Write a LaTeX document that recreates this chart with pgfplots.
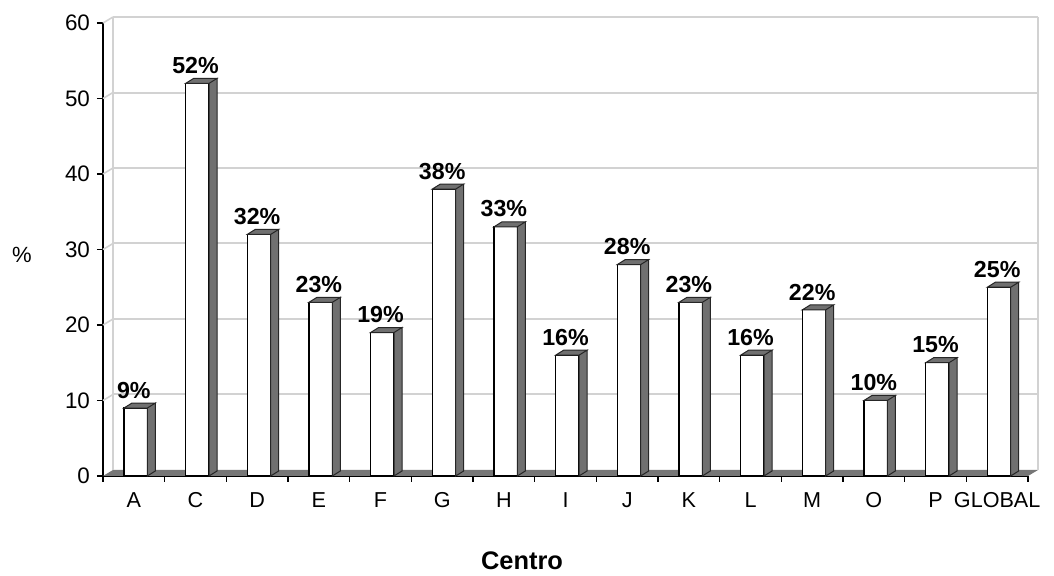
\documentclass[border=0pt]{standalone}
\usepackage{pgfplots}
\pgfplotsset{compat=1.18}
\usepackage{pgfplotstable}
\usepackage{fontspec}
\setmainfont{Liberation Sans}
\definecolor{sidegray}{RGB}{112,112,112}
\definecolor{floorgray}{RGB}{118,118,118}
\definecolor{gridgray}{RGB}{210,210,210}
\pgfdeclareplotmark{bardepth}{%
  \pgfmathsetlengthmacro\barh{\val*3.775pt}%
  \pgfsetlinewidth{0.5pt}%
  \pgfsetstrokecolor{black!85}%
  \pgfsetfillcolor{sidegray}%
  \pgfpathmoveto{\pgfpoint{6.75pt}{-\barh}}%
  \pgfpathlineto{\pgfpoint{10.75pt}{-\barh+2.5pt}}%
  \pgfpathlineto{\pgfpoint{10.75pt}{2.5pt}}%
  \pgfpathlineto{\pgfpoint{6.75pt}{0pt}}%
  \pgfpathclose
  \pgfpathmoveto{\pgfpoint{-4.95pt}{0pt}}%
  \pgfpathlineto{\pgfpoint{-0.95pt}{2.5pt}}%
  \pgfpathlineto{\pgfpoint{10.75pt}{2.5pt}}%
  \pgfpathlineto{\pgfpoint{6.75pt}{0pt}}%
  \pgfpathclose
  \pgfusepath{fill,stroke}%
}
\pgfplotstableread{
x v lab
0 9 A
1 52 C
2 32 D
3 23 E
4 19 F
5 38 G
6 33 H
7 16 I
8 28 J
9 23 K
10 16 L
11 22 M
12 10 O
13 15 P
14 25 GLOBAL
}\datatable
\begin{document}
\begin{tikzpicture}
\path[use as bounding box] (-51.5pt,-50pt) rectangle (475.5pt,238pt);
\begin{axis}[
  scale only axis, width=462.5pt, height=226.5pt,
  xmin=-0.5, xmax=14.5, ymin=0, ymax=60,
  clip=false,
  axis x line*=bottom, axis y line*=left,
  axis line style={black, line width=0.8pt},
  ytick={0,10,...,60},
  xtick={0,...,14},
  xticklabels={A,C,D,E,F,G,H,I,J,K,L,M,O,P,GLOBAL},
  minor xtick={-0.5,0.5,...,14.5},
  tick align=outside,
  major tick length=3pt, minor tick length=3pt,
  tick style={black, line width=0.6pt},
  major x tick style={draw=none},
  /pgf/number format/assume math mode=true,
  tick label style={font=\fontsize{10.8}{12}\selectfont},
  yticklabel style={font=\fontsize{11.2}{12}\selectfont},
  xticklabel style={anchor=base, yshift=-12.9pt},
  xlabel={Centro},
  ylabel={\%},
  every axis x label/.style={at={(axis description cs:0.453,-0.1876)}, anchor=center, font=\bfseries\fontsize{12.7}{14}\selectfont},
  every axis y label/.style={at={(axis description cs:-0.0876,0.488)}, anchor=center, font=\fontsize{11}{12}\selectfont},
]
\fill[floorgray] (axis cs:-0.5,0) -- (axis cs:14.5,0) -- ([shift={(5pt,3pt)}]axis cs:14.5,0) -- ([shift={(5pt,3pt)}]axis cs:-0.5,0) -- cycle;
\pgfplotsinvokeforeach{10,20,30,40,50,60}{
  \draw[gridgray, line width=1pt] ([shift={(5pt,3pt)}]axis cs:-0.5,#1) -- ([shift={(5pt,3pt)}]axis cs:14.5,#1);
  \draw[gridgray, line width=0.8pt] (axis cs:-0.5,#1) -- ([shift={(5pt,3pt)}]axis cs:-0.5,#1);
}
\draw[gridgray, line width=1pt] ([shift={(5pt,3pt)}]axis cs:-0.5,0) -- ([shift={(5pt,3pt)}]axis cs:-0.5,60);
\draw[gridgray, line width=1pt] ([shift={(5pt,3pt)}]axis cs:14.5,0) -- ([shift={(5pt,3pt)}]axis cs:14.5,60);
\addplot[only marks, mark=bardepth, visualization depends on={rawy \as \val}] table[x=x,y=v]{\datatable};
\addplot[ybar, bar width=11.7pt, bar shift=0.9pt, fill=white, draw=black, line width=0.6pt,
  nodes near coords={\pgfmathprintnumber{\pgfplotspointmeta}\%},
  nodes near coords style={font=\bfseries\fontsize{11.6}{12}\selectfont, yshift=1.2pt, black}]
  table[x=x,y=v]{\datatable};
\end{axis}
\end{tikzpicture}
\end{document}
